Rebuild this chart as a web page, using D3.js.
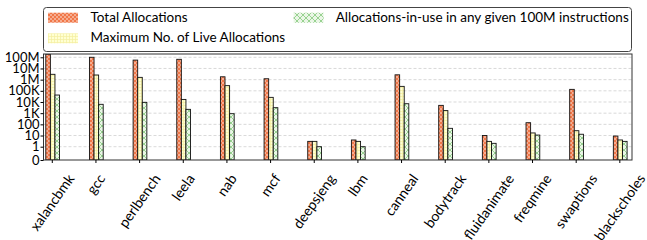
<!DOCTYPE html>
<html>
<head>
<meta charset="utf-8">
<script src="https://cdn.jsdelivr.net/npm/d3@7"></script>
<style>
  body { margin: 0; background: #fff; }
  svg { font-family: Lato, "DejaVu Sans", sans-serif; }
</style>
</head>
<body>
<svg id="chart" width="647" height="240"></svg>
<script>
// benchmark names along the x axis
const categories = ["xalancbmk", "gcc", "perlbench", "leela", "nab", "mcf", "deepsjeng",
  "lbm", "canneal", "bodytrack", "fluidanimate", "freqmine", "swaptions", "blackscholes"];

// values (symlog y axis)
const totalAllocs = [1.9e8, 1.0e8, 5.6e7, 6.6e7, 1.8e6, 1.2e6, 3, 4, 2.7e6, 5000, 10, 140, 1.35e5, 9];
const maxLiveAllocs = [3.0e6, 2.6e6, 1.6e6, 1.7e4, 2.9e5, 2.6e4, 3, 3, 2.5e5, 1700, 3, 17, 27, 4];
const inUseAllocs = [4.2e4, 6200, 9300, 2200, 900, 3100, 1, 1, 7000, 44, 2, 11, 13, 3];

const seriesNames = ["Total Allocations", "Maximum No. of Live Allocations",
  "Allocations-in-use in any given 100M instructions"];

const yTickValues = [0, 1, 10, 100, 1e3, 1e4, 1e5, 1e6, 1e7, 1e8];
const yTickLabels = ["0", "1", "10", "100", "1K", "10K", "100K", "1M", "10M", "100M"];

// chart dimensions
const plot = {left: 43.5, right: 632, top: 54, bottom: 160};
const fontSize = 13;

// matplotlib style symlog, linear part below 1
const LIN = 1.19;
const symlog = v => v <= 1 ? v * LIN : LIN + Math.log10(v);

const x = d3.scaleLinear().domain([-0.19, 13.29]).range([plot.left, plot.right]);
const y = d3.scaleLinear().domain([0, symlog(1.97e8)]).range([plot.bottom, plot.top]);

const svg = d3.select("#chart");
const defs = svg.append("defs");

// hatch patterns
const pOrange = defs.append("pattern").attr("id", "hOrange")
  .attr("patternUnits", "userSpaceOnUse").attr("width", 4).attr("height", 4);
pOrange.append("rect").attr("width", 4).attr("height", 4).attr("fill", "#f07748");
pOrange.append("circle").attr("cx", 1).attr("cy", 1).attr("r", 0.75).attr("fill", "#fff");
pOrange.append("circle").attr("cx", 3).attr("cy", 3).attr("r", 0.75).attr("fill", "#fff");

const pYellow = defs.append("pattern").attr("id", "hYellow")
  .attr("patternUnits", "userSpaceOnUse").attr("width", 3).attr("height", 3);
pYellow.append("rect").attr("width", 3).attr("height", 3).attr("fill", "#ffffd2");
pYellow.append("path").attr("d", "M0,0.5H3M0.5,0V3").attr("stroke", "#f3eea0").attr("stroke-width", 0.7);

const pGreen = defs.append("pattern").attr("id", "hGreen")
  .attr("patternUnits", "userSpaceOnUse").attr("width", 6).attr("height", 6);
pGreen.append("rect").attr("width", 6).attr("height", 6).attr("fill", "#eaf6e6");
pGreen.append("path").attr("d", "M0,0L6,6M6,0L0,6").attr("stroke", "#8fce88").attr("stroke-width", 0.9);

const fills = ["url(#hOrange)", "url(#hYellow)", "url(#hGreen)"];
const series = [totalAllocs, maxLiveAllocs, inUseAllocs];

defs.append("clipPath").attr("id", "plotClip").append("rect")
  .attr("x", plot.left).attr("y", plot.top)
  .attr("width", plot.right - plot.left).attr("height", plot.bottom - plot.top);

// grid lines
svg.append("g").selectAll("line")
  .data(yTickValues.filter(v => v > 0))
  .enter().append("line")
  .attr("x1", plot.left).attr("x2", plot.right)
  .attr("y1", d => y(symlog(d))).attr("y2", d => y(symlog(d)))
  .attr("stroke", "#cfcfcf").attr("stroke-width", 0.8).attr("stroke-dasharray", "3,2");

// bars
const barW = 0.105;
const bars = svg.append("g").attr("clip-path", "url(#plotClip)");
series.forEach((vals, k) => {
  bars.selectAll(".bar" + k)
    .data(vals)
    .enter().append("rect")
    .attr("class", "bar" + k)
    .attr("x", (d, i) => x(i + (k - 1) * barW + 0.02 - barW / 2))
    .attr("width", x(barW) - x(0))
    .attr("y", d => y(symlog(d)))
    .attr("height", d => plot.bottom - y(symlog(d)))
    .attr("fill", fills[k])
    .attr("stroke", "#111").attr("stroke-width", 0.9);
});

// frame
svg.append("rect")
  .attr("x", plot.left).attr("y", plot.top)
  .attr("width", plot.right - plot.left).attr("height", plot.bottom - plot.top)
  .attr("fill", "none").attr("stroke", "#333").attr("stroke-width", 1);

// y axis
const yAxis = svg.append("g")
  .attr("transform", `translate(${plot.left},0)`)
  .call(d3.axisLeft(y)
    .tickValues(yTickValues.map(symlog))
    .tickFormat((d, i) => yTickLabels[i])
    .tickSize(3).tickPadding(1).tickSizeOuter(0));
yAxis.select(".domain").remove();
yAxis.selectAll("text").attr("font-size", fontSize).attr("fill", "#000")
  .attr("font-family", "Lato");

// x axis
const xAxis = svg.append("g")
  .attr("transform", `translate(0,${plot.bottom})`)
  .call(d3.axisBottom(x)
    .tickValues(d3.range(categories.length))
    .tickFormat("").tickSize(3).tickSizeOuter(0));
xAxis.select(".domain").remove();

// rotated x labels, centred on the tick like matplotlib
const deg = 55;
const ang = deg * Math.PI / 180;
const xl = svg.append("g").selectAll("text")
  .data(categories)
  .enter().append("text")
  .attr("font-size", 14)
  .attr("text-anchor", "middle")
  .attr("dominant-baseline", "central")
  .text(d => d);
xl.each(function(d, i) {
  const L = this.getComputedTextLength();
  const h = 12;
  const cy = 172 + (L * Math.sin(ang) + h * Math.cos(ang)) / 2;
  d3.select(this).attr("transform", `translate(${x(i)},${cy}) rotate(${-deg})`);
});

// legend
const legend = svg.append("g");
legend.append("rect")
  .attr("x", 43.5).attr("y", 7.5).attr("width", 588).attr("height", 44)
  .attr("rx", 3).attr("fill", "#fff").attr("stroke", "#444").attr("stroke-width", 1);
const legPos = [
  {px: 48, py: 12.7, tx: 90.5, ty: 21.7},
  {px: 48, py: 33.3, tx: 90.5, ty: 42},
  {px: 293.6, py: 12.7, tx: 335.7, ty: 21.7}
];
seriesNames.forEach((name, k) => {
  const p = legPos[k];
  legend.append("rect").attr("x", p.px).attr("y", p.py).attr("width", 30).attr("height", 10)
    .attr("fill", fills[k]);
  legend.append("text").attr("x", p.tx).attr("y", p.ty).attr("font-size", 13.5).text(name);
});
</script>
</body>
</html>
